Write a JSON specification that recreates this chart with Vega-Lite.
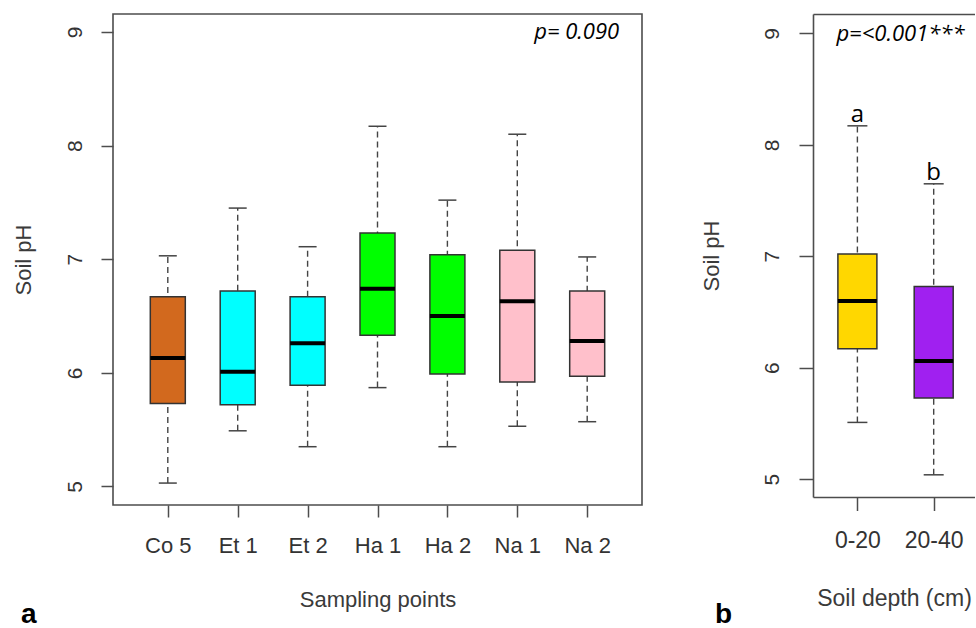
{
  "$schema": "https://vega.github.io/schema/vega-lite/v6.json",
  "padding": {"left": 11, "top": 13, "right": 0, "bottom": 0},
  "background": "white",
  "datasets": {
    "a": [
      {"site": "Co 5", "lower": 5.03, "q1": 5.73, "median": 6.13, "q3": 6.67, "upper": 7.03},
      {"site": "Et 1", "lower": 5.49, "q1": 5.72, "median": 6.01, "q3": 6.72, "upper": 7.45},
      {"site": "Et 2", "lower": 5.35, "q1": 5.89, "median": 6.26, "q3": 6.67, "upper": 7.11},
      {"site": "Ha 1", "lower": 5.87, "q1": 6.33, "median": 6.74, "q3": 7.23, "upper": 8.17},
      {"site": "Ha 2", "lower": 5.35, "q1": 5.99, "median": 6.50, "q3": 7.04, "upper": 7.52},
      {"site": "Na 1", "lower": 5.53, "q1": 5.92, "median": 6.63, "q3": 7.08, "upper": 8.10},
      {"site": "Na 2", "lower": 5.57, "q1": 5.97, "median": 6.28, "q3": 6.72, "upper": 7.02}
    ],
    "b": [
      {"depth": "0-20", "lower": 5.51, "q1": 6.17, "median": 6.60, "q3": 7.02, "upper": 8.17, "letter": "a"},
      {"depth": "20-40", "lower": 5.04, "q1": 5.73, "median": 6.06, "q3": 6.73, "upper": 7.65, "letter": "b"}
    ],
    "pa": [{"site": "Na 2", "label": "p= 0.090"}],
    "pb": [{"depth": "0-20", "label": "p=<0.001***"}]
  },
  "config": {
    "font": "Liberation Sans",
    "axis": {
      "grid": false,
      "labelFont": "Liberation Sans",
      "titleFont": "Liberation Sans",
      "titleFontWeight": "normal",
      "labelColor": "#333333",
      "titleColor": "#3a3a3a",
      "tickColor": "#4d4d4d",
      "tickWidth": 1.5,
      "domainColor": "#4d4d4d",
      "domainWidth": 1.6
    },
    "title": {"font": "Liberation Sans", "color": "#000000"}
  },
  "resolve": {"scale": {"color": "independent"}},
  "bounds": "flush",
  "spacing": 171,
  "hconcat": [
    {
      "width": 529,
      "height": 491,
      "data": {"name": "a"},
      "view": {"stroke": "#4d4d4d", "strokeWidth": 1.6},
      "title": {"text": "a", "orient": "bottom", "anchor": "start", "frame": "bounds", "fontSize": 28, "fontWeight": "bold", "baseline": "alphabetic", "offset": 13, "dx": 9},
      "encoding": {
        "x": {
          "field": "site", "type": "nominal", "sort": null,
          "scale": {"type": "point", "padding": 0.784},
          "axis": {"title": "Sampling points", "labelAngle": 0, "labelFontSize": 22, "titleFontSize": 22, "tickSize": 12, "labelPadding": 18, "titlePadding": 33, "domain": false, "labelBaseline": "top"}
        }
      },
      "layer": [
        {
          "mark": {"type": "rule", "strokeDash": [6, 4], "color": "#444444", "strokeWidth": 1.4},
          "encoding": {
            "y": {"field": "lower", "type": "quantitative", "title": "Soil pH",
              "scale": {"domain": [4.837, 9.158], "nice": false, "zero": false},
              "axis": {"values": [5, 6, 7, 8, 9], "format": "d", "labelAngle": 270, "labelAlign": "center", "labelBaseline": "bottom", "labelFontSize": 21, "titleFontSize": 22, "tickSize": 12, "labelPadding": 16, "titlePadding": 29, "domain": false}},
            "y2": {"field": "upper"}
          }
        },
        {
          "mark": {"type": "tick", "color": "#444444", "size": 18, "thickness": 1.5, "opacity": 1},
          "encoding": {"y": {"field": "lower", "type": "quantitative", "title": "Soil pH"}}
        },
        {
          "mark": {"type": "tick", "color": "#444444", "size": 18, "thickness": 1.5, "opacity": 1},
          "encoding": {"y": {"field": "upper", "type": "quantitative", "title": "Soil pH"}}
        },
        {
          "mark": {"type": "bar", "size": 35, "stroke": "#333333", "strokeWidth": 1.5, "opacity": 1},
          "encoding": {
            "y": {"field": "q1", "type": "quantitative", "title": "Soil pH"},
            "y2": {"field": "q3"},
            "color": {"field": "site", "type": "nominal", "legend": null,
              "scale": {"domain": ["Co 5", "Et 1", "Et 2", "Ha 1", "Ha 2", "Na 1", "Na 2"], "range": ["#D2691E", "#00FFFF", "#00FFFF", "#00FF00", "#00FF00", "#FFC0CB", "#FFC0CB"]}}
          }
        },
        {
          "mark": {"type": "tick", "color": "#000000", "size": 35, "thickness": 4, "opacity": 1},
          "encoding": {"y": {"field": "median", "type": "quantitative", "title": "Soil pH"}}
        },
        {
          "data": {"name": "pa"},
          "mark": {"type": "text", "font": "Open Sans", "fontStyle": "italic", "fontSize": 22, "align": "right", "baseline": "alphabetic", "dx": 32, "color": "#000000"},
          "encoding": {
            "y": {"datum": 8.94},
            "text": {"field": "label"}
          }
        }
      ]
    },
    {
      "width": 162,
      "height": 483,
      "data": {"name": "b"},
      "view": {"stroke": null},
      "title": {"text": "b", "orient": "bottom", "anchor": "start", "frame": "bounds", "fontSize": 28, "fontWeight": "bold", "baseline": "alphabetic", "offset": 12, "dx": 15},
      "resolve": {"axis": {"x": "independent"}},
      "layer": [
        {
          "mark": {"type": "rule", "strokeDash": [6, 4], "color": "#444444", "strokeWidth": 1.4},
          "encoding": {
            "x": {"field": "depth", "type": "nominal", "sort": null,
              "scale": {"type": "point", "padding": 0.5616, "align": 0.518},
              "axis": {"orient": "bottom", "title": "Soil depth (cm)", "labelAngle": 0, "labelFontSize": 23, "titleFontSize": 23, "tickSize": 13.5, "labelPadding": 19, "titlePadding": 35, "domain": true, "labelBaseline": "top"}},
            "y": {"field": "lower", "type": "quantitative", "title": "Soil pH",
              "scale": {"domain": [4.841, 9.173], "nice": false, "zero": false},
              "axis": {"values": [5, 6, 7, 8, 9], "format": "d", "labelAngle": 270, "labelAlign": "center", "labelBaseline": "bottom", "labelFontSize": 21, "titleFontSize": 22, "tickSize": 14, "labelPadding": 17, "titlePadding": 38, "domain": true}},
            "y2": {"field": "upper"}
          }
        },
        {
          "mark": {"type": "tick", "color": "#444444", "size": 20, "thickness": 1.5, "opacity": 1},
          "encoding": {
            "x": {"field": "depth", "type": "nominal", "sort": null,
              "axis": {"orient": "top", "labels": false, "ticks": false, "title": null, "domain": true}},
            "y": {"field": "lower", "type": "quantitative", "title": "Soil pH"}
          }
        },
        {
          "mark": {"type": "tick", "color": "#444444", "size": 20, "thickness": 1.5, "opacity": 1},
          "encoding": {
            "x": {"field": "depth", "type": "nominal", "sort": null, "axis": null},
            "y": {"field": "upper", "type": "quantitative", "title": "Soil pH"}
          }
        },
        {
          "mark": {"type": "bar", "size": 39, "stroke": "#333333", "strokeWidth": 1.5, "opacity": 1},
          "encoding": {
            "x": {"field": "depth", "type": "nominal", "sort": null, "axis": null},
            "y": {"field": "q1", "type": "quantitative", "title": "Soil pH"},
            "y2": {"field": "q3"},
            "color": {"field": "depth", "type": "nominal", "legend": null,
              "scale": {"domain": ["0-20", "20-40"], "range": ["#FFD700", "#A020F0"]}}
          }
        },
        {
          "mark": {"type": "tick", "color": "#000000", "size": 39, "thickness": 4, "opacity": 1},
          "encoding": {
            "x": {"field": "depth", "type": "nominal", "sort": null, "axis": null},
            "y": {"field": "median", "type": "quantitative", "title": "Soil pH"}
          }
        },
        {
          "mark": {"type": "text", "font": "Open Sans", "fontSize": 24, "baseline": "alphabetic", "dy": -4, "color": "#000000"},
          "encoding": {
            "x": {"field": "depth", "type": "nominal", "sort": null, "axis": null},
            "y": {"field": "upper", "type": "quantitative", "title": "Soil pH"},
            "text": {"field": "letter"}
          }
        },
        {
          "data": {"name": "pb"},
          "mark": {"type": "text", "font": "Open Sans", "fontStyle": "italic", "fontSize": 22, "align": "left", "baseline": "alphabetic", "dx": -21, "color": "#000000"},
          "encoding": {
            "x": {"field": "depth", "type": "nominal", "sort": null, "axis": null},
            "y": {"datum": 8.93},
            "text": {"field": "label"}
          }
        }
      ]
    }
  ]
}
